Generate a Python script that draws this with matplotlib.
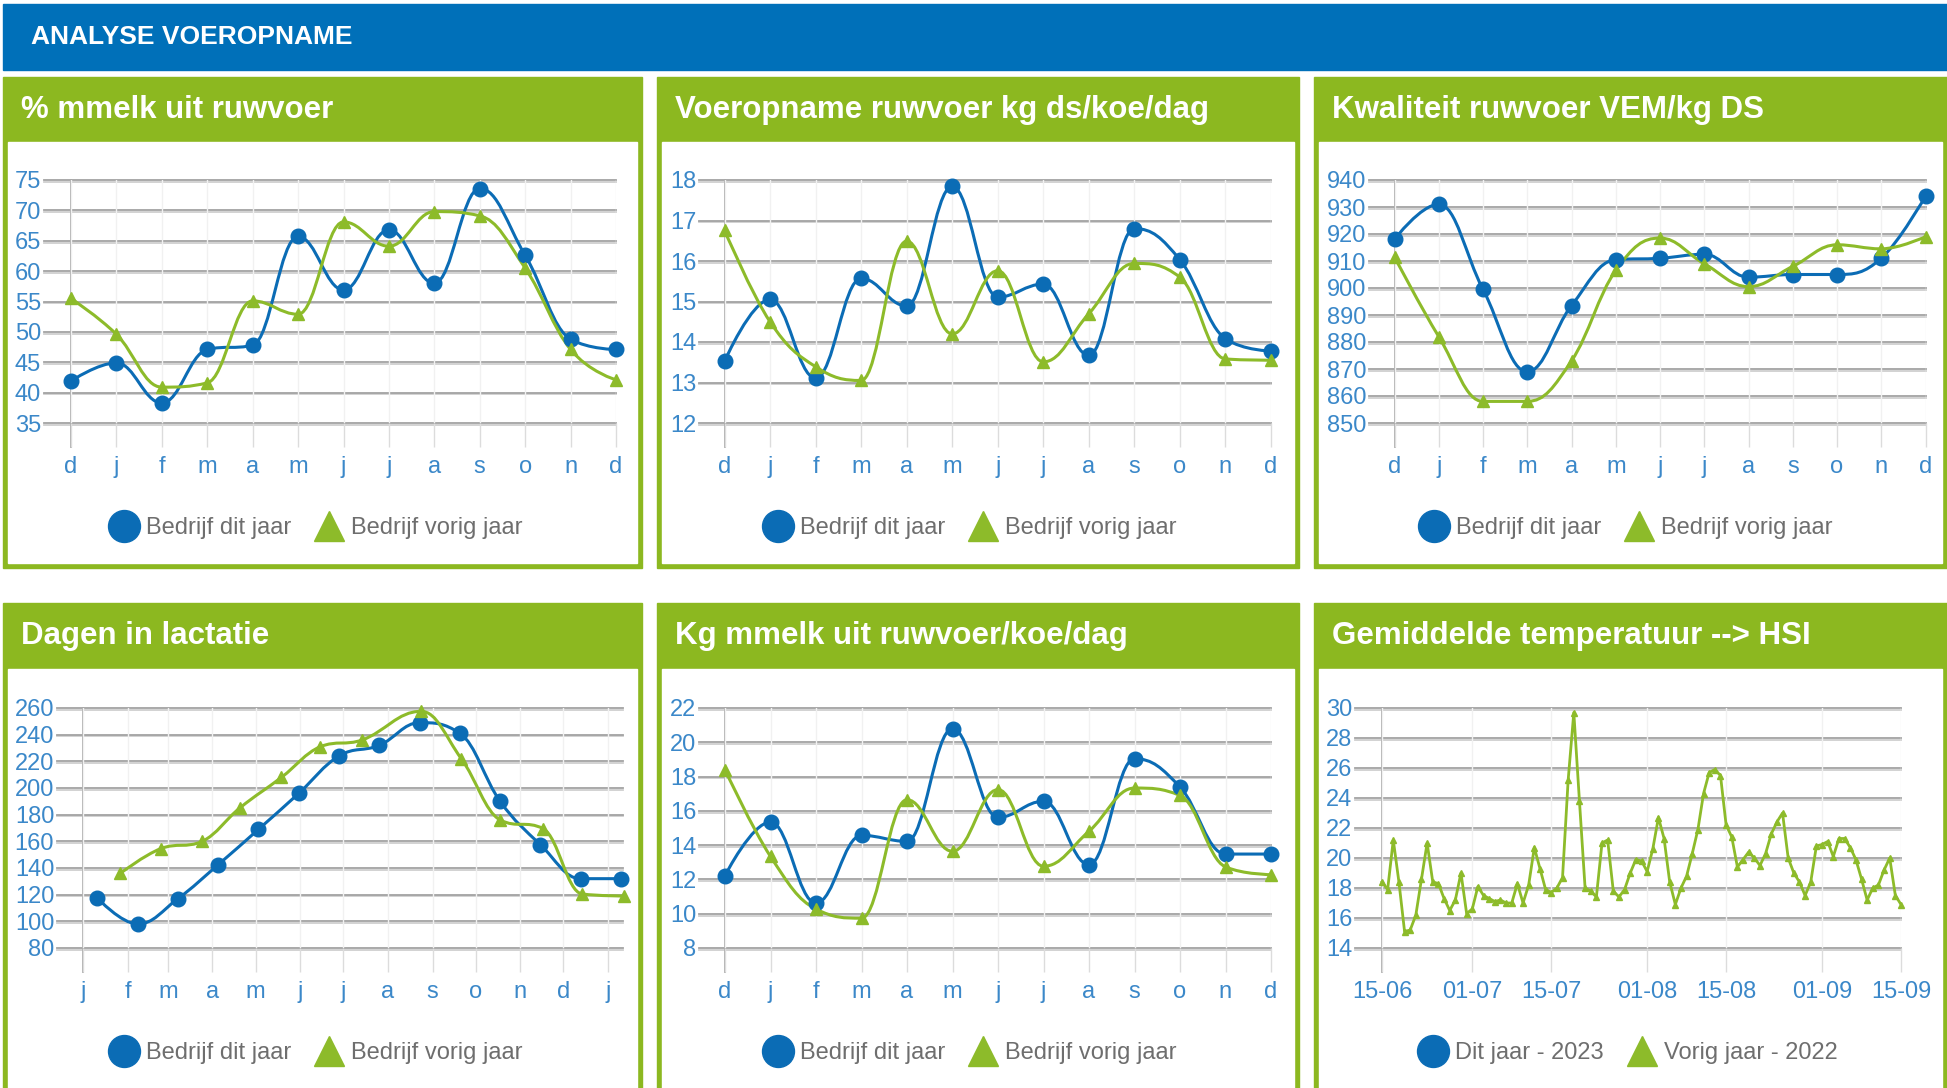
import matplotlib
matplotlib.use('Agg')
import matplotlib.pyplot as plt
import matplotlib.patheffects as pe
from matplotlib.lines import Line2D
from matplotlib.patches import Rectangle, PathPatch
from matplotlib.path import Path

plt.rcParams['font.family'] = ['Liberation Sans', 'DejaVu Sans']

W, H = 1947, 1088

BLAUW = '#0b6cb5'
GROEN = '#8dbb2a'
KOP_BLAUW = '#0070b9'
KOP_GROEN = '#8cb820'
TICK_KLEUR = '#3b88c9'
LEGENDA_KLEUR = '#6e6e6e'

# ---------------- data ----------------
maanden = ['d', 'j', 'f', 'm', 'a', 'm', 'j', 'j', 'a', 's', 'o', 'n', 'd']

pct_dit = [41.9, 44.9, 38.3, 47.1, 47.8, 65.7, 56.9, 66.8, 58.0, 73.6, 62.6, 48.8, 47.1]
pct_vorig = [55.5, 49.6, 40.9, 41.6, 55.1, 52.9, 68.1, 64.1, 69.8, 69.1, 60.5, 47.1, 42.1]

opname_dit = [13.52, 15.05, 13.11, 15.57, 14.89, 17.84, 15.11, 15.43, 13.67, 16.80, 16.03, 14.08, 13.78]
opname_vorig = [16.76, 14.5, 13.39, 13.05, 16.49, 14.2, 15.76, 13.51, 14.7, 15.94, 15.6, 13.58, 13.55]

vem_dit = [918, 931, 899.5, 869, 893.5, 910.5, 911, 912.5, 904, 905, 905, 911, 934]
vem_vorig = [911.5, 882, 858, 858, 873, 906.5, 918.5, 909, 900.5, 908, 916, 914.5, 919]

# dagen in lactatie, x = dagen sinds 1 januari
lact_maanden = ['j', 'f', 'm', 'a', 'm', 'j', 'j', 'a', 's', 'o', 'n', 'd', 'j']
lact_maand_dag = [0, 31, 59, 90, 120, 151, 181, 212, 243, 273, 304, 334, 365]
lact_dag_dit = [10, 38, 66, 94, 122, 150, 178, 206, 234, 262, 290, 318, 346, 374]
lact_dit = [117.5, 98, 117, 142.5, 169, 196, 224, 232, 249, 241, 190, 157.5, 132, 132]
lact_dag_vorig = [26, 54, 83, 109, 138, 165, 194, 235, 263, 290, 320, 347, 376]
lact_vorig = [136, 154.5, 160, 185, 208, 231, 236, 257.5, 222, 176, 169.5, 120.5, 119]

kg_dit = [12.22, 15.35, 10.62, 14.57, 14.22, 20.79, 15.62, 16.56, 12.86, 19.04, 17.39, 13.48, 13.48]
kg_vorig = [18.4, 13.34, 10.27, 9.74, 16.65, 13.64, 17.24, 12.77, 14.81, 17.33, 16.9, 12.73, 12.28]

# gemiddelde temperatuur vorig jaar, dagelijks vanaf 15-06
temp_labels = ['15-06', '01-07', '15-07', '01-08', '15-08', '01-09', '15-09']
temp_label_dag = [0, 16, 30, 47, 61, 78, 92]
temp_vorig = [18.4, 17.9, 21.2, 18.4, 15.1, 15.2, 16.2, 18.6, 21.0, 18.4,
              18.3, 17.3, 16.5, 17.2, 19.0, 16.3, 16.6, 18.1, 17.5, 17.3,
              17.1, 17.2, 17.0, 17.0, 18.3, 17.0, 18.2, 20.7, 19.3, 17.9,
              17.7, 18.0, 18.7, 25.2, 29.7, 23.8, 18.0, 17.8, 17.4, 21.0,
              21.2, 17.8, 17.4, 17.9, 19.0, 19.9, 19.8, 19.1, 20.6, 22.7,
              21.3, 18.4, 16.9, 18.0, 18.8, 20.3, 21.9, 24.3, 25.7, 25.9,
              25.5, 22.2, 21.4, 19.4, 19.9, 20.4, 20.0, 19.5, 20.3, 21.6,
              22.4, 23.0, 20.0, 19.0, 18.4, 17.5, 18.4, 20.8, 20.9, 21.1,
              20.1, 21.3, 21.3, 20.7, 19.9, 18.6, 17.2, 18.0, 18.2, 19.2,
              20.0, 17.5, 16.9]

titels = [['% mmelk uit ruwvoer', 'Voeropname ruwvoer kg ds/koe/dag', 'Kwaliteit ruwvoer VEM/kg DS'],
          ['Dagen in lactatie', 'Kg mmelk uit ruwvoer/koe/dag', 'Gemiddelde temperatuur --> HSI']]
legenda = ['Bedrijf dit jaar', 'Bedrijf vorig jaar']
legenda_temp = ['Dit jaar - 2023', 'Vorig jaar - 2022']


def spline_pad(xs, ys):
    # bezier spline zoals highcharts (smoothing 1.5)
    n = len(xs)
    rechts = [None] * n
    verts = [(xs[0], ys[0])]
    codes = [Path.MOVETO]
    for i in range(1, n):
        x, y = xs[i], ys[i]
        lx, ly = xs[i - 1], ys[i - 1]
        links = (x, y)
        if i < n - 1:
            nx, ny = xs[i + 1], ys[i + 1]
            lcx = (1.5 * x + lx) / 2.5
            lcy = (1.5 * y + ly) / 2.5
            rcx = (1.5 * x + nx) / 2.5
            rcy = (1.5 * y + ny) / 2.5
            corr = (rcy - lcy) * (rcx - x) / (rcx - lcx) + y - rcy
            lcy += corr
            rcy += corr
            if lcy > ly and lcy > y:
                lcy = max(ly, y)
                rcy = 2 * y - lcy
            elif lcy < ly and lcy < y:
                lcy = min(ly, y)
                rcy = 2 * y - lcy
            if rcy > ny and rcy > y:
                rcy = max(ny, y)
                lcy = 2 * y - rcy
            elif rcy < ny and rcy < y:
                rcy = min(ny, y)
                lcy = 2 * y - rcy
            links = (lcx, lcy)
            rechts[i] = (rcx, rcy)
        vorige = rechts[i - 1] if rechts[i - 1] is not None else (lx, ly)
        verts += [vorige, links, (x, y)]
        codes += [Path.CURVE4] * 3
    return Path(verts, codes)


fig = plt.figure(figsize=(W / 100, H / 100), dpi=100)
bg = fig.add_axes([0, 0, 1, 1])
bg.set_xlim(0, W)
bg.set_ylim(H, 0)
bg.axis('off')

bg.add_patch(Rectangle((3, 4), W - 3, 66, color=KOP_BLAUW))
bg.text(31, 44, 'ANALYSE VOEROPNAME', color='white', fontsize=19, fontweight='bold', va='baseline')

kolommen = [(3, 642), (657, 1299), (1314, 1947)]
rijen = [(77, 142, 568), (603, 669, 1100)]
for r, (y0, yk, y1) in enumerate(rijen):
    for k, (x0, x1) in enumerate(kolommen):
        bg.add_patch(Rectangle((x0, y0), x1 - x0, y1 - y0, color=KOP_GROEN))
        bg.add_patch(Rectangle((x0 + 5, yk), x1 - x0 - 10, y1 - yk - 5, color='white'))
        bg.text(x0 + 18, y0 + 41, titels[r][k], color='white', fontsize=22.5,
                fontweight='bold', va='baseline')


def xgrens(gl, gr, pa, va, pb, vb):
    s = (vb - va) / (pb - pa)
    return (va + (gl - pa) * s, va + (gr - pa) * s)


def maak_as(gl, gr, top, bottom, xlim, yticks, xticks, xlabels, as_x):
    ax = fig.add_axes([gl / W, 1 - bottom / H, (gr - gl) / W, (bottom - top) / H])
    ax.set_facecolor('none')
    ax.set_xlim(xlim)
    ax.set_ylim(yticks[0], yticks[-1])
    for s in ax.spines.values():
        s.set_visible(False)
    ax.set_xticks(xticks, xlabels)
    ax.set_yticks(yticks)
    ax.tick_params(axis='x', length=17, width=1, color='#dcdcdc', pad=7,
                   labelsize=17, labelcolor=TICK_KLEUR)
    ax.tick_params(axis='y', length=0, pad=2, labelsize=17, labelcolor=TICK_KLEUR)
    ax.grid(axis='x', color='#f1f1f1', lw=1)
    for v in yticks:
        ax.axhline(v, color='#a3a3a3', lw=1.3, zorder=1, clip_on=False,
                   path_effects=[pe.SimpleLineShadow(offset=(0, -1.3), shadow_color='#cfcfcf', alpha=1),
                                 pe.Normal()])
    ax.axvline(as_x, ymin=-24 / (bottom - top), ymax=1, color='#a8a8a8', lw=1.3,
               clip_on=False, zorder=1)
    return ax


def spline(ax, xs, ys, kleur, marker, ms):
    ax.add_patch(PathPatch(spline_pad(xs, ys), fc='none', ec=kleur, lw=2.2,
                           clip_on=False, zorder=3))
    ax.plot(xs, ys, ls='none', marker=marker, ms=ms, color=kleur, clip_on=False, zorder=4)


def legenda_maken(ax, cx, cy, labels):
    handles = [Line2D([], [], ls='none', marker='o', ms=23, color=BLAUW),
               Line2D([], [], ls='none', marker='^', ms=21, color=GROEN)]
    ax.legend(handles, labels, loc='center', bbox_to_anchor=(cx / W, 1 - cy / H),
              bbox_transform=fig.transFigure, ncol=2, frameon=False, fontsize=17,
              handlelength=1.4, handletextpad=0.25, columnspacing=0.9, borderpad=0,
              labelcolor=LEGENDA_KLEUR)


cats = list(range(len(maanden)))

# rij 1
ax1 = maak_as(44, 616, 180, 423, xgrens(44, 616, 71, 0, 616, 12),
              list(range(35, 80, 5)), cats, maanden, 0)
spline(ax1, cats, pct_dit, BLAUW, 'o', 10.5)
spline(ax1, cats, pct_vorig, GROEN, '^', 8)
legenda_maken(ax1, 315, 528, legenda)

ax2 = maak_as(699, 1271, 180, 423, xgrens(699, 1271, 724.5, 0, 1271, 12),
              list(range(12, 19)), cats, maanden, 0)
spline(ax2, cats, opname_dit, BLAUW, 'o', 10.5)
spline(ax2, cats, opname_vorig, GROEN, '^', 8)
legenda_maken(ax2, 969, 528, legenda)

ax3 = maak_as(1369, 1925.5, 180, 423, xgrens(1369, 1925.5, 1394.5, 0, 1925.5, 12),
              list(range(850, 950, 10)), cats, maanden, 0)
spline(ax3, cats, vem_dit, BLAUW, 'o', 10.5)
spline(ax3, cats, vem_vorig, GROEN, '^', 8)
legenda_maken(ax3, 1625, 528, legenda)

# rij 2
ax4 = maak_as(57, 623, 708, 948, xgrens(57, 623, 83, 0, 608, 365),
              list(range(80, 280, 20)), lact_maand_dag, lact_maanden, 0)
spline(ax4, lact_dag_dit, lact_dit, BLAUW, 'o', 10.5)
spline(ax4, lact_dag_vorig, lact_vorig, GROEN, '^', 8)
legenda_maken(ax4, 315, 1053, legenda)

ax5 = maak_as(699, 1271, 708, 948, xgrens(699, 1271, 725, 0, 1271, 12),
              list(range(8, 24, 2)), cats, maanden, 0)
spline(ax5, cats, kg_dit, BLAUW, 'o', 10.5)
spline(ax5, cats, kg_vorig, GROEN, '^', 8)
legenda_maken(ax5, 969, 1053, legenda)

ax6 = maak_as(1355, 1901, 708, 948, xgrens(1355, 1901, 1382, 0, 1901, 92),
              list(range(14, 32, 2)), temp_label_dag, temp_labels, 0)
dagen = list(range(len(temp_vorig)))
ax6.plot(dagen, temp_vorig, color=GROEN, lw=2, marker='^', ms=5, clip_on=False, zorder=3)
legenda_maken(ax6, 1627, 1053, legenda_temp)

fig.savefig('out.png', dpi=100)
